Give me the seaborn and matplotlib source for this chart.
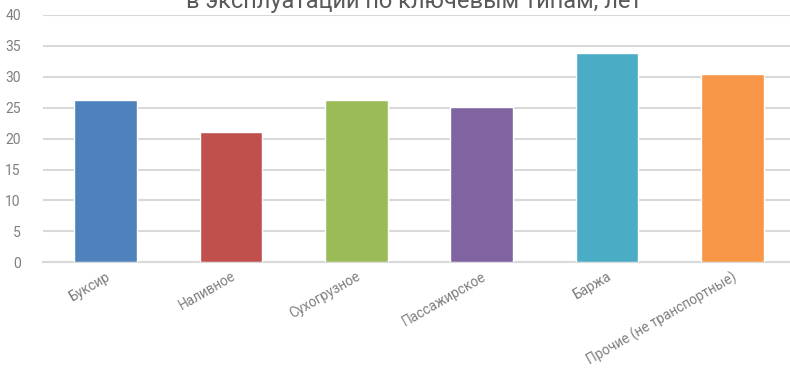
import matplotlib
matplotlib.use("Agg")
import matplotlib.pyplot as plt
import seaborn as sns
import pandas as pd

# Average age of vessels by type, years
categories = ["Буксир", "Наливное", "Сухогрузное", "Пассажирское", "Баржа",
              "Прочие (не транспортные)"]
ages = [26.2, 21.0, 26.2, 25.1, 33.8, 30.4]
colors = ["#4F81BD", "#C0504D", "#9BBB59", "#8064A2", "#4BACC6", "#F79646"]
y_ticks = [0, 5, 10, 15, 20, 25, 30, 35, 40]
title = "в эксплуатации по ключевым типам, лет"

sns.set_theme(style="white")
plt.rcParams["font.family"] = ["Roboto", "DejaVu Sans"]

df = pd.DataFrame({"type": categories, "age": ages})

W, H = 790, 369
fig = plt.figure(figsize=(W / 100, H / 100), dpi=100)
ax = fig.add_axes([43 / W, (H - 262.3) / H, (W - 43) / W, 247.3 / H])

sns.barplot(data=df, x="type", y="age", hue="type", palette=colors,
            width=0.5, legend=False, ax=ax, saturation=1, zorder=3)

grid_color = "#D9D9D9"
ax.set_ylim(0, 40)
ax.set_yticks(y_ticks)
ax.set_xlim(-0.5, 5.46)
ax.yaxis.grid(True, color=grid_color, linewidth=1.5, zorder=0)
ax.set_axisbelow(True)
for side in ["left", "right", "top"]:
    ax.spines[side].set_visible(False)
ax.spines["bottom"].set_color(grid_color)
ax.spines["bottom"].set_linewidth(1.5)

ax.set_xlabel("")
ax.set_ylabel("")
label_color = "#7F7F7F"
ax.tick_params(axis="y", length=0, pad=16, labelsize=10, labelcolor=label_color)
ax.tick_params(axis="x", length=0, pad=5, labelsize=9.8, labelcolor=label_color)
for lab in ax.get_xticklabels():
    lab.set_rotation(30)
    lab.set_ha("right")
    lab.set_rotation_mode("anchor")

fig.text(414 / W, 1 - 8 / H, title, ha="center", va="baseline",
         fontsize=17, color="#595959")

fig.savefig("out.png", dpi=100)
